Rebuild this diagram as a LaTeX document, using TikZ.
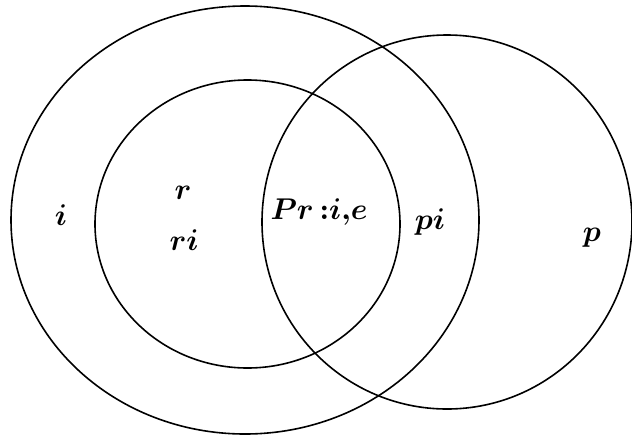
\documentclass[tikz,border=0pt]{standalone}
\begin{document}
\begin{tikzpicture}[x=1pt,y=-1pt,
  ring/.style={draw=black,line width=1.6pt},
  lab/.style={font=\boldmath,inner sep=0pt,scale=3.0}]
\useasboundingbox (0,0) rectangle (632,437);
\draw[ring] (245,220) ellipse [x radius=234,y radius=214];
\draw[ring] (247.5,224) ellipse [x radius=152.5,y radius=144];
\draw[ring] (447,222) ellipse [x radius=185,y radius=187];
\node[lab] (li) at (61,215) {$i$};
\node[lab] (lr) at (183,193) {$r$};
\node[lab] (lri) at (184,240) {$ri$};
\node[lab] (lpr) at (319,212) {$Pr\,{:}i{,}e$};
\node[lab] (lpi) at (430,222) {$pi$};
\node[lab] (lp) at (592,238) {$p$};
\end{tikzpicture}
\end{document}
